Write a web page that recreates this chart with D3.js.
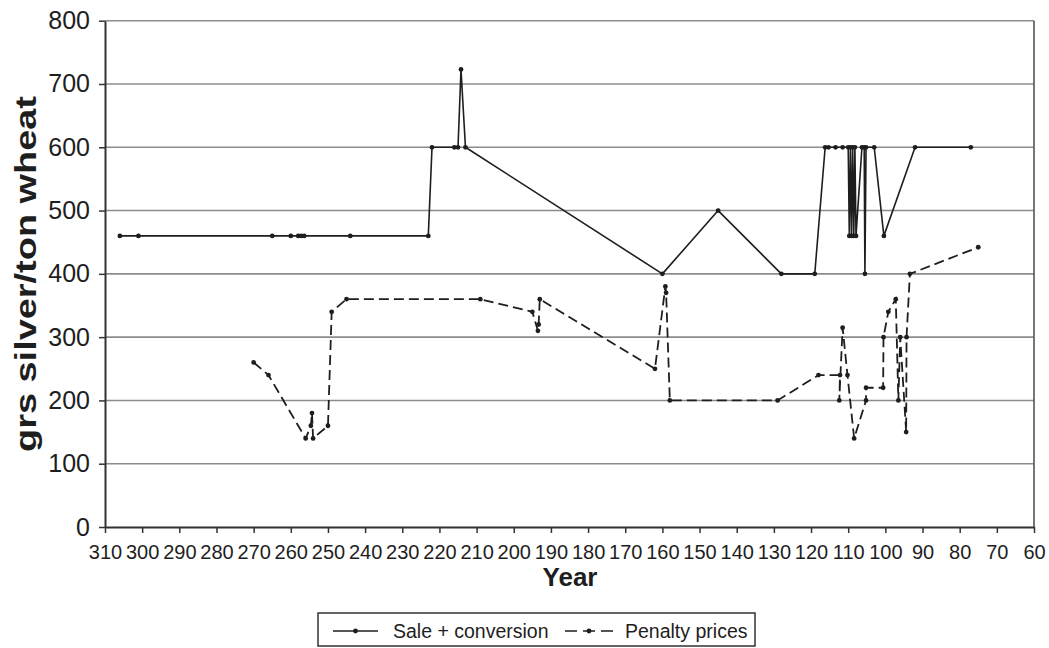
<!DOCTYPE html>
<html>
<head>
<meta charset="utf-8">
<script src="https://cdn.jsdelivr.net/npm/d3@7"></script>
<style>
  html, body { margin: 0; padding: 0; background: #fff; }
  svg { display: block; font-family: "Liberation Sans", Arial, sans-serif; }
</style>
</head>
<body>
<svg id="chart" width="1049" height="648"></svg>
<script>
// Wheat prices in grams of silver per ton, by year BC
const yearTicks = [310, 300, 290, 280, 270, 260, 250, 240, 230, 220, 210, 200, 190, 180,
                   170, 160, 150, 140, 130, 120, 110, 100, 90, 80, 70, 60];
const valueTicks = [0, 100, 200, 300, 400, 500, 600, 700, 800];

const saleYears = [306, 301, 265, 260, 258, 257.2, 256.4, 244, 223, 222, 216, 215, 214.2, 213,
                   160, 145, 128, 119, 116.2, 115.3, 113.4, 111.5, 110,
                   109.7, 109.4, 109.1, 108.8, 108.5, 108.2, 107.9,
                   106.3, 105.7, 105.5, 105.2, 103, 100.4, 92, 77];
const saleValues = [460, 460, 460, 460, 460, 460, 460, 460, 460, 600, 600, 600, 723, 600,
                    400, 500, 400, 400, 600, 600, 600, 600, 600,
                    460, 600, 460, 600, 460, 600, 460,
                    600, 600, 400, 600, 600, 460, 600, 600];

const penaltyYears = [270, 266, 256, 254.6, 254.3, 254, 250, 249, 245, 209,
                      195, 193.5, 193.3, 193, 162, 159.2, 159, 158, 129, 118,
                      112.2, 112.4, 111.5, 110.2, 108.4, 105.2, 105.2, 100.6, 100.5,
                      99.2, 97.2, 96.5, 96, 94.4, 94.3, 93.4, 75];
const penaltyValues = [260, 240, 140, 160, 180, 140, 160, 340, 360, 360,
                       340, 310, 320, 360, 250, 380, 370, 200, 200, 240,
                       240, 200, 315, 240, 140, 200, 220, 220, 300,
                       340, 360, 200, 300, 150, 300, 400, 442];

const seriesNames = ["Sale + conversion", "Penalty prices"];

const svg = d3.select("#chart");
const plotLeft = 105, plotRight = 1034, plotTop = 20.7, plotBottom = 527;

const x = d3.scaleLinear().domain([310, 60]).range([plotLeft, plotRight]);
const y = d3.scaleLinear().domain([0, 800]).range([plotBottom, plotTop]);

const ink = "#1e1e1e";

// horizontal gridlines
svg.append("g")
  .selectAll("line")
  .data(valueTicks.filter(v => v > 0))
  .join("line")
  .attr("x1", plotLeft).attr("x2", plotRight)
  .attr("y1", d => y(d)).attr("y2", d => y(d))
  .attr("stroke", "#8c8c8c").attr("stroke-width", 1.6);

// right frame edge
svg.append("line")
  .attr("x1", plotRight).attr("x2", plotRight).attr("y1", plotTop).attr("y2", plotBottom)
  .attr("stroke", "#555").attr("stroke-width", 1.6);

// x axis
const xAxis = svg.append("g")
  .attr("transform", `translate(0,${plotBottom})`)
  .call(d3.axisBottom(x).tickValues(yearTicks).tickSize(6).tickSizeOuter(0).tickPadding(12));
xAxis.select(".domain").attr("stroke", "#333").attr("stroke-width", 2);
xAxis.selectAll(".tick line").attr("stroke", "#333").attr("stroke-width", 1.5);
xAxis.selectAll(".tick text")
  .attr("font-size", 20).attr("fill", ink)
  .attr("font-family", "Liberation Sans, Arial, sans-serif");

// y axis
const yAxis = svg.append("g")
  .attr("transform", `translate(${plotLeft},0)`)
  .call(d3.axisLeft(y).tickValues(valueTicks).tickSize(6).tickSizeOuter(0).tickPadding(9));
yAxis.select(".domain").attr("stroke", "#333").attr("stroke-width", 2);
yAxis.selectAll(".tick line").attr("stroke", "#333").attr("stroke-width", 1.5);
yAxis.selectAll(".tick text")
  .attr("font-size", 25).attr("fill", ink)
  .attr("font-family", "Liberation Sans, Arial, sans-serif");

// axis titles
svg.append("text")
  .attr("x", 570).attr("y", 586)
  .attr("text-anchor", "middle")
  .attr("font-size", 26).attr("font-weight", "bold").attr("fill", ink)
  .text("Year");

svg.append("text")
  .attr("transform", "translate(36,274) rotate(-90)")
  .attr("text-anchor", "middle")
  .attr("font-size", 29).attr("font-weight", "bold").attr("fill", ink)
  .attr("textLength", 356).attr("lengthAdjust", "spacingAndGlyphs")
  .text("grs silver/ton wheat");

// series
const line = d3.line().x(d => x(d[0])).y(d => y(d[1]));
const sale = d3.zip(saleYears, saleValues);
const penalty = d3.zip(penaltyYears, penaltyValues);

svg.append("path")
  .datum(sale)
  .attr("d", line)
  .attr("fill", "none").attr("stroke", ink).attr("stroke-width", 1.6)
  .attr("stroke-linejoin", "round");

svg.append("path")
  .datum(penalty)
  .attr("d", line)
  .attr("fill", "none").attr("stroke", ink).attr("stroke-width", 1.8)
  .attr("stroke-dasharray", "10,5");

svg.append("g").selectAll("circle")
  .data(sale).join("circle")
  .attr("cx", d => x(d[0])).attr("cy", d => y(d[1])).attr("r", 2.4).attr("fill", ink);

svg.append("g").selectAll("circle")
  .data(penalty).join("circle")
  .attr("cx", d => x(d[0])).attr("cy", d => y(d[1])).attr("r", 2.4).attr("fill", ink);

// legend
const legend = svg.append("g");
legend.append("rect")
  .attr("x", 318).attr("y", 613).attr("width", 437).attr("height", 33)
  .attr("fill", "#fff").attr("stroke", "#333").attr("stroke-width", 1.5);

const legendItems = [
  { name: seriesNames[0], x0: 333, x1: 378, tx: 393, dash: null },
  { name: seriesNames[1], x0: 565, x1: 613, tx: 625, dash: "12,6" }
];
legendItems.forEach(it => {
  legend.append("line")
    .attr("x1", it.x0).attr("x2", it.x1).attr("y1", 631).attr("y2", 631)
    .attr("stroke", ink).attr("stroke-width", 1.6)
    .attr("stroke-dasharray", it.dash);
  legend.append("circle")
    .attr("cx", (it.x0 + it.x1) / 2).attr("cy", 631).attr("r", 2.4).attr("fill", ink);
  legend.append("text")
    .attr("x", it.tx).attr("y", 638)
    .attr("font-size", 19.5).attr("fill", ink)
    .text(it.name);
});
</script>
</body>
</html>
